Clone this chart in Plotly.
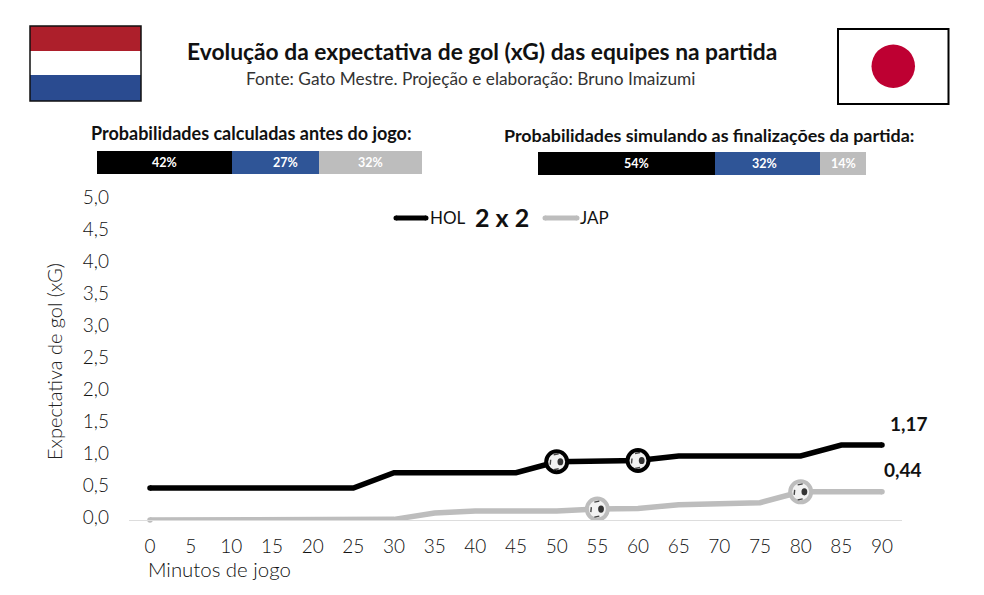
import plotly.graph_objects as go

W, H = 984, 595
FONT = "Lato"

minutes = list(range(0, 95, 5))
hol_xg = [0.5, 0.5, 0.5, 0.5, 0.5, 0.5, 0.74, 0.74, 0.74, 0.74, 0.91, 0.91, 0.93, 1.0, 1.0, 1.0, 1.0, 1.17, 1.17]
jap_xg = [0, 0, 0, 0, 0.01, 0.01, 0.01, 0.11, 0.14, 0.14, 0.14, 0.17, 0.18, 0.24, 0.25, 0.27, 0.44, 0.44, 0.44]
hol_goals = [50, 60]
jap_goals = [55, 80]
y_ticks = [0, 0.5, 1, 1.5, 2, 2.5, 3, 3.5, 4, 4.5, 5]
y_tick_text = ["0,0", "0,5", "1,0", "1,5", "2,0", "2,5", "3,0", "3,5", "4,0", "4,5", "5,0"]
x_ticks = minutes

prob_before = [42, 27, 32]
prob_sim = [54, 32, 14]
prob_colors = ["#000000", "#2F5597", "#BDBDBD"]
before_label_nudge = [0, 10, 0]
sim_label_nudge = [10, -3, 0]

BLACK = "#000000"
GREY = "#BDBDBD"


def fx(px):
    return px / W


def fy(px):
    return 1 - px / H


def rect(x0, y0, x1, y1, fill, line=None, lw=0):
    return dict(type="rect", xref="paper", yref="paper", x0=fx(x0), x1=fx(x1), y0=fy(y1), y1=fy(y0),
                fillcolor=fill, line=dict(color=line or fill, width=lw), layer="above")


def text(px, py, s, size, color="#222222", anchor="center", weight=None, angle=0):
    return dict(xref="paper", yref="paper", x=fx(px), y=fy(py), text=s, showarrow=False,
                xanchor=anchor, yanchor="middle", textangle=angle,
                font=dict(family=FONT, size=size, color=color, weight=weight or 400))


fig = go.Figure()
annotations = []

# Probability bars, each percentage written over its segment
for axis, values, nudges in (("2", prob_before, before_label_nudge), ("3", prob_sim, sim_label_nudge)):
    start = 0
    for v, c, nudge in zip(values, prob_colors, nudges):
        fig.add_trace(go.Bar(
            x=[v], y=[0], orientation="h", marker=dict(color=c, line_width=0),
            xaxis="x" + axis, yaxis="y" + axis, showlegend=False, width=1, hoverinfo="skip",
        ))
        annotations.append(dict(xref="x" + axis, yref="y" + axis, x=start + v / 2, y=0, text=f"{v}%",
                                showarrow=False, xshift=nudge,
                                font=dict(family=FONT, size=12.5, color="#FFFFFF", weight=700)))
        start += v

# xG lines
for vals, color, name in ((hol_xg, BLACK, "HOL"), (jap_xg, GREY, "JAP")):
    fig.add_trace(go.Scatter(
        x=minutes, y=vals, mode="lines", name=name, showlegend=False, cliponaxis=False,
        line=dict(color=color, width=5.5, shape="linear"), xaxis="x", yaxis="y",
    ))
    fig.add_trace(go.Scatter(
        x=[minutes[0], minutes[-1]], y=[vals[0], vals[-1]], mode="markers", showlegend=False,
        marker=dict(color=color, size=5.5), cliponaxis=False, xaxis="x", yaxis="y",
    ))

# Carries the tick labels, which sit slightly above their gridline position
fig.add_trace(go.Scatter(x=[0], y=[0], mode="markers", marker=dict(opacity=0), showlegend=False,
                         hoverinfo="skip", xaxis="x", yaxis="y4"))

shapes = []


def ball(minute, series, border):
    v = series[minutes.index(minute)]

    def anchored(kind, x0, y0, x1, y1, **kw):
        return dict(type=kind, xref="x", yref="y", xsizemode="pixel", ysizemode="pixel",
                    xanchor=minute, yanchor=v, x0=x0, x1=x1, y0=y0, y1=y1, layer="above", **kw)

    shapes.append(anchored("circle", -10.5, -10.5, 10.5, 10.5, fillcolor="#F2F2F2", line=dict(color=border, width=4)))
    shapes.append(anchored("circle", 0.8, -3.6, 6.6, 3.6, fillcolor="#333333", line=dict(width=0)))
    for (x0, y0, x1, y1) in ((-6.5, -3, -6, 2), (-3, 7, 2, 8), (-3, -8, 2, -7)):
        shapes.append(anchored("line", x0, y0, x1, y1, line=dict(color="#444444", width=1.4)))


for m in hol_goals:
    ball(m, hol_xg, BLACK)
for m in jap_goals:
    ball(m, jap_xg, GREY)

# Flags
shapes += [
    rect(30, 26, 141, 51, "#AD1F2B"),
    rect(30, 51, 141, 75, "#FFFFFF"),
    rect(30, 75, 141, 101, "#2A4B90"),
    rect(30, 26, 141, 101, "rgba(0,0,0,0)", "#111111", 1.5),
    rect(838, 29, 948.5, 104, "#FFFFFF", "#000000", 2),
    dict(type="circle", xref="paper", yref="paper", x0=fx(871.5), x1=fx(915), y0=fy(88), y1=fy(44.5),
         fillcolor="#BE0032", line=dict(width=0), layer="above"),
]

# Legend keys with rounded ends
for x0, x1, c in ((396, 426, BLACK), (545, 577, GREY)):
    shapes.append(dict(type="line", xref="paper", yref="paper", x0=fx(x0), x1=fx(x1), y0=fy(218), y1=fy(218),
                       line=dict(color=c, width=5), layer="above"))
    for cx in (x0, x1):
        shapes.append(dict(type="circle", xref="paper", yref="paper", x0=fx(cx - 2.5), x1=fx(cx + 2.5),
                           y0=fy(220.5), y1=fy(215.5), fillcolor=c, line=dict(width=0), layer="above"))

annotations += [
    text(482, 51, "Evolução da expectativa de gol (xG) das equipes na partida", 22.8, "#111111", weight=700),
    text(470, 79, "Fonte: Gato Mestre. Projeção e elaboração: Bruno Imaizumi", 17.3, "#333333"),
    text(251, 133, "Probabilidades calculadas antes do jogo:", 18, "#111111", weight=700),
    text(709, 135, "Probabilidades simulando as finalizações da partida:", 17.9, "#111111", weight=700),
    text(428, 217, "HOL", 17, "#111111", anchor="left"),
    text(502, 217, "2 x 2", 25, "#111111", weight=700),
    text(578, 217, "JAP", 17, "#111111", anchor="left"),
    text(54, 362, "Expectativa de gol (xG)", 20, "#222222", angle=-90, weight=300),
    text(146, 569, "Minutos de jogo", 20.4, "#111111", anchor="left", weight=300),
]

# End-of-line values
for series, dx, dy in ((hol_xg, 27, 22), (jap_xg, 21, 22)):
    v = series[-1]
    annotations.append(dict(xref="x", yref="y", x=minutes[-1], y=v, text=f"{v:.2f}".replace(".", ","),
                            showarrow=False, xshift=dx, yshift=dy,
                            font=dict(family=FONT, size=19, color="#111111", weight=700)))

axis_off = dict(visible=False, fixedrange=True)

fig.update_layout(
    width=W, height=H, autosize=False,
    margin=dict(l=0, r=0, t=0, b=0, autoexpand=False),
    paper_bgcolor="#FFFFFF", plot_bgcolor="rgba(0,0,0,0)",
    barmode="stack", showlegend=False,
    font=dict(family=FONT, color="#444444"),
    shapes=shapes, annotations=annotations,
    xaxis=dict(domain=[fx(129), fx(902)], range=[-21 / (732 / 90), 90 + 20 / (732 / 90)],
               tickmode="array", tickvals=x_ticks, ticktext=[str(t) for t in x_ticks],
               tickfont=dict(family=FONT, size=19, color="#111111", weight=300),
               showgrid=False, zeroline=False, showline=True, linecolor="#DDDDDD", linewidth=1,
               ticks="", ticklabelstandoff=9, anchor="y"),
    yaxis=dict(domain=[fy(520), fy(200)], range=[0, 5], visible=False, showgrid=False, anchor="x"),
    yaxis4=dict(domain=[fy(517), fy(197)], range=[0, 5], tickmode="array", tickvals=y_ticks, ticktext=y_tick_text,
                tickfont=dict(family=FONT, size=19, color="#111111", weight=300),
                showgrid=False, zeroline=False, showline=False, ticks="",
                anchor="free", position=fx(109), side="left"),
    xaxis2=dict(domain=[fx(97), fx(422)], range=[0, 101], anchor="y2", **axis_off),
    yaxis2=dict(domain=[fy(174), fy(151)], range=[-0.5, 0.5], anchor="x2", **axis_off),
    xaxis3=dict(domain=[fx(538), fx(866)], range=[0, 100], anchor="y3", **axis_off),
    yaxis3=dict(domain=[fy(175), fy(152)], range=[-0.5, 0.5], anchor="x3", **axis_off),
)

fig.write_html("out.html", config=dict(displayModeBar=False))
